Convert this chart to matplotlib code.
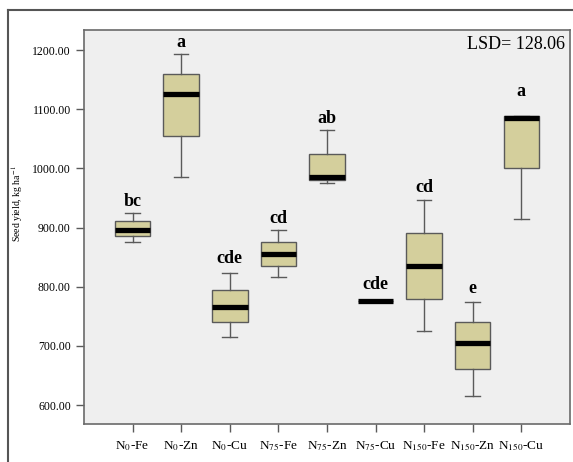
import matplotlib
matplotlib.use('Agg')
import matplotlib.pyplot as plt
from matplotlib.lines import Line2D

plt.rcParams['font.family'] = 'Liberation Serif'
plt.rcParams['mathtext.fontset'] = 'stix'

# treatments and box statistics (kg/ha)
labels = [r'N$_{0}$-Fe', r'N$_{0}$-Zn', r'N$_{0}$-Cu',
          r'N$_{75}$-Fe', r'N$_{75}$-Zn', r'N$_{75}$-Cu',
          r'N$_{150}$-Fe', r'N$_{150}$-Zn', r'N$_{150}$-Cu']
whislo = [875, 986, 715, 816, 976, 776, 725, 615, 914]
q1 = [885, 1055, 740, 835, 980, 776, 780, 661, 1000]
med = [896, 1125, 765, 856, 985, 776, 835, 705, 1085]
q3 = [911, 1160, 795, 875, 1025, 776, 890, 740, 1088]
whishi = [925, 1194, 824, 896, 1065, 776, 946, 775, 1088]
letters = ['bc', 'a', 'cde', 'cd', 'ab', 'cde', 'cd', 'e', 'a']

stats = []
for i in range(len(labels)):
    stats.append(dict(label=labels[i], whislo=whislo[i], q1=q1[i], med=med[i],
                      q3=q3[i], whishi=whishi[i], fliers=[]))

fig = plt.figure(figsize=(5.73, 4.62), dpi=100)
ax = fig.add_axes([0.1466, 0.0823, 0.848, 0.8528])
ax.set_facecolor('#efefef')

pos = list(range(1, len(labels) + 1))
ax.bxp(stats, positions=pos, widths=0.73, patch_artist=True,
       boxprops=dict(facecolor='#d4cf9c', edgecolor='#5a5a5a', linewidth=1.0),
       medianprops=dict(color='black', linewidth=3.8, solid_capstyle='butt'),
       whiskerprops=dict(color='#5a5a5a', linewidth=1.0),
       capprops=dict(color='#5a5a5a', linewidth=1.0),
       capwidths=0.3)

# significance letters above each group
offsets = [2, 2, 4, 2, 2, 6, 3, 3, 12]
for x, y, t, off in zip(pos, whishi, letters, offsets):
    ax.annotate(t, (x, y), xytext=(0, off), textcoords='offset points',
                ha='center', va='bottom', fontsize=13, fontweight='bold')

ax.text(0.99, 0.985, 'LSD= 128.06', transform=ax.transAxes, ha='right', va='top',
        fontsize=13)

ax.set_xlim(0, 10)
ax.set_ylim(568, 1234)
ax.set_yticks([600, 700, 800, 900, 1000, 1100, 1200])
ax.set_yticklabels(['%.2f' % v for v in ax.get_yticks()])
ax.set_xticks(pos)
ax.set_xticklabels(labels)
ax.tick_params(axis='both', direction='out', length=6, color='#5a5a5a', width=1)
ax.tick_params(axis='y', labelsize=8.5)
ax.tick_params(axis='x', labelsize=9.5, pad=5)
for s in ax.spines.values():
    s.set_color('#6a6a6a')
    s.set_linewidth(1.2)

ax.set_ylabel(r'Seed yield, kg ha$^{-1}$', fontsize=7)
ax.yaxis.set_label_coords(-0.121, 0.558)

# outer frame
fig.add_artist(Line2D([8 / 573, 8 / 573], [0, 1 - 10 / 462], color='#555555',
                      linewidth=1.5, transform=fig.transFigure))
fig.add_artist(Line2D([8 / 573, 1], [1 - 10 / 462, 1 - 10 / 462], color='#555555',
                      linewidth=1.5, transform=fig.transFigure))

fig.savefig('out.png', dpi=100)
